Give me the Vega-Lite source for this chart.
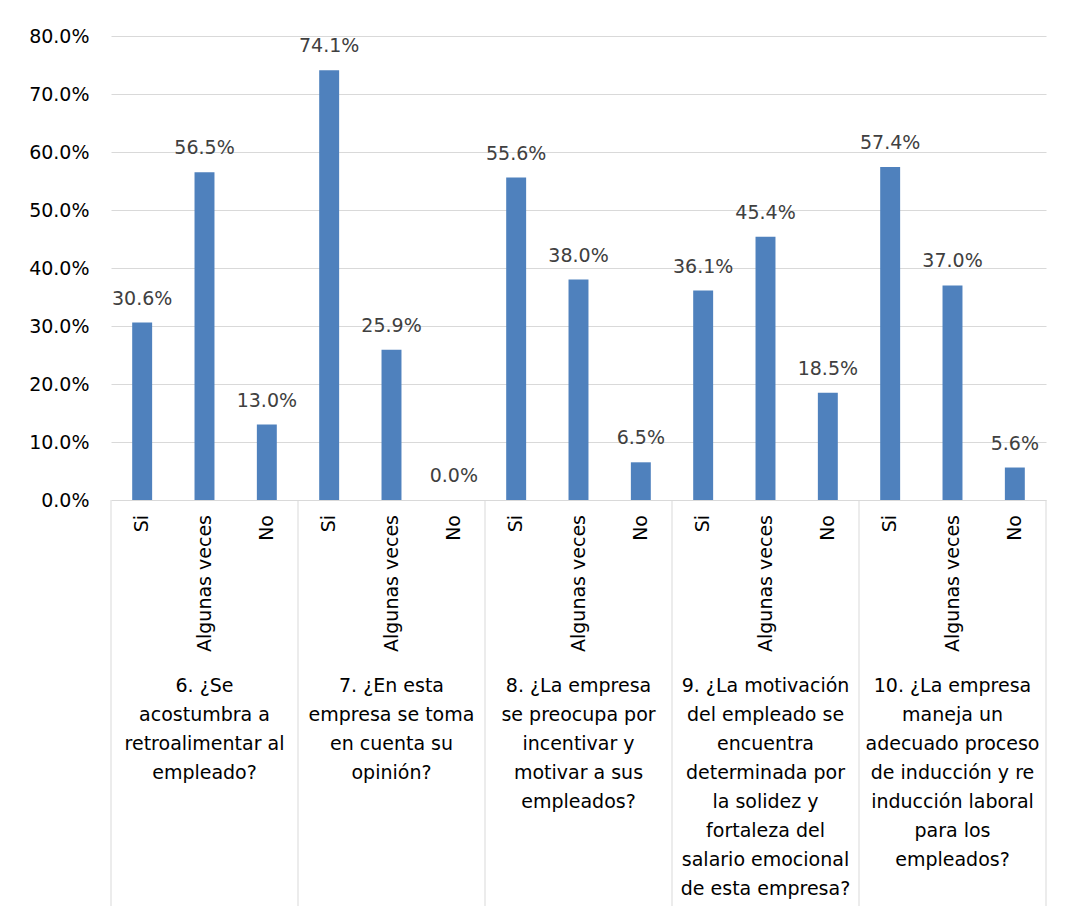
{
  "$schema": "https://vega.github.io/schema/vega-lite/v6.json",
  "background": "white",
  "padding": {"left": 28, "top": 27, "right": 10, "bottom": 5},
  "spacing": 0,
  "bounds": "flush",
  "config": {
    "font": "DejaVu Sans",
    "view": {"stroke": null}
  },
  "datasets": {
    "bars": [
      {"q": "6", "answer": "Si", "value": 0.306},
      {"q": "6", "answer": "Algunas veces", "value": 0.565},
      {"q": "6", "answer": "No", "value": 0.130},
      {"q": "7", "answer": "Si", "value": 0.741},
      {"q": "7", "answer": "Algunas veces", "value": 0.259},
      {"q": "7", "answer": "No", "value": 0.0},
      {"q": "8", "answer": "Si", "value": 0.556},
      {"q": "8", "answer": "Algunas veces", "value": 0.380},
      {"q": "8", "answer": "No", "value": 0.065},
      {"q": "9", "answer": "Si", "value": 0.361},
      {"q": "9", "answer": "Algunas veces", "value": 0.454},
      {"q": "9", "answer": "No", "value": 0.185},
      {"q": "10", "answer": "Si", "value": 0.574},
      {"q": "10", "answer": "Algunas veces", "value": 0.370},
      {"q": "10", "answer": "No", "value": 0.056}
    ],
    "questions": [
      {"q": "6", "label": "6. ¿Se\nacostumbra a\nretroalimentar al\nempleado?"},
      {"q": "7", "label": "7. ¿En esta\nempresa se toma\nen cuenta su\nopinión?"},
      {"q": "8", "label": "8. ¿La empresa\nse preocupa por\nincentivar y\nmotivar a sus\nempleados?"},
      {"q": "9", "label": "9. ¿La motivación\ndel empleado se\nencuentra\ndeterminada por\nla solidez y\nfortaleza del\nsalario emocional\nde esta empresa?"},
      {"q": "10", "label": "10. ¿La empresa\nmaneja un\nadecuado proceso\nde inducción y re\ninducción laboral\npara los\nempleados?"}
    ]
  },
  "vconcat": [
    {
      "width": 935,
      "height": 464,
      "data": {"name": "bars"},
      "encoding": {
        "x": {
          "field": "q", "type": "nominal",
          "scale": {"domain": ["6", "7", "8", "9", "10"], "paddingInner": 0, "paddingOuter": 0},
          "axis": null
        },
        "xOffset": {
          "field": "answer", "type": "nominal",
          "scale": {"domain": ["Si", "Algunas veces", "No"], "paddingInner": 0.68, "paddingOuter": 0.34}
        },
        "y": {
          "field": "value", "type": "quantitative",
          "scale": {"domain": [0, 0.8], "nice": false},
          "axis": {
            "format": ".1%",
            "values": [0, 0.1, 0.2, 0.3, 0.4, 0.5, 0.6, 0.7, 0.8],
            "title": null, "domain": false, "ticks": false,
            "labelPadding": 22, "labelFontSize": 19, "labelColor": "#000000",
            "gridColor": "#d9d9d9", "gridWidth": 1
          }
        }
      },
      "layer": [
        {"mark": {"type": "bar", "color": "#4F81BD"}},
        {
          "mark": {"type": "text", "baseline": "alphabetic", "dy": -18, "fontSize": 19, "color": "#404040"},
          "encoding": {"text": {"field": "value", "type": "quantitative", "format": ".1%"}}
        }
      ]
    },
    {
      "width": 935,
      "height": 406,
      "layer": [
        {
          "data": {"name": "questions"},
          "mark": {"type": "rule", "color": "#d9d9d9", "strokeWidth": 1},
          "encoding": {
            "x": {
              "field": "q", "type": "nominal", "bandPosition": 0,
              "scale": {"domain": ["6", "7", "8", "9", "10"], "paddingInner": 0, "paddingOuter": 0},
              "axis": null
            }
          }
        },
        {
          "data": {"name": "questions"},
          "transform": [{"filter": "datum.q === '10'"}],
          "mark": {"type": "rule", "color": "#d9d9d9", "strokeWidth": 1},
          "encoding": {
            "x": {"field": "q", "type": "nominal", "bandPosition": 1, "axis": null}
          }
        },
        {
          "data": {"name": "bars"},
          "mark": {"type": "text", "angle": 270, "align": "right", "baseline": "middle", "fontSize": 19, "color": "#000000", "yOffset": 15},
          "encoding": {
            "x": {"field": "q", "type": "nominal", "axis": null},
            "xOffset": {
              "field": "answer", "type": "nominal",
              "scale": {"domain": ["Si", "Algunas veces", "No"], "paddingInner": 0.68, "paddingOuter": 0.34}
            },
            "y": {
              "datum": "answers", "type": "nominal", "bandPosition": 0,
              "scale": {"type": "band", "domain": ["answers", "questions"], "paddingInner": 0, "paddingOuter": 0},
              "axis": null
            },
            "text": {"field": "answer", "type": "nominal"}
          }
        },
        {
          "data": {"name": "questions"},
          "mark": {"type": "text", "align": "center", "baseline": "top", "fontSize": 19, "lineHeight": 29, "lineBreak": "\n", "color": "#000000", "yOffset": -26},
          "encoding": {
            "x": {"field": "q", "type": "nominal", "axis": null},
            "y": {"datum": "questions", "type": "nominal", "bandPosition": 0, "axis": null},
            "text": {"field": "label", "type": "nominal"}
          }
        }
      ]
    }
  ]
}
